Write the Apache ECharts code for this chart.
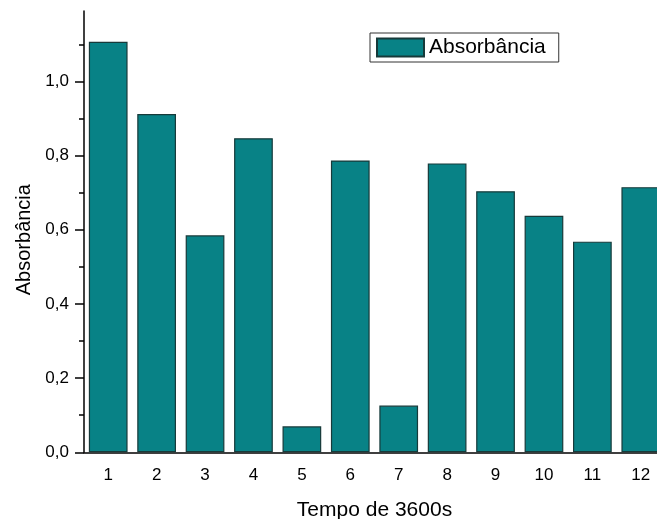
<!DOCTYPE html>
<html>
<head>
<meta charset="utf-8">
<script src="https://cdn.jsdelivr.net/npm/echarts@6/dist/echarts.min.js"></script>
<style>
  html, body { margin: 0; padding: 0; background: #fff; }
  #chart { width: 657px; height: 519px; }
</style>
</head>
<body>
<div id="chart"></div>
<script>
// dados
const categorias = ['1', '2', '3', '4', '5', '6', '7', '8', '9', '10', '11', '12'];
const absorbancia = [1.107, 0.912, 0.585, 0.847, 0.070, 0.787, 0.126, 0.779, 0.704, 0.638, 0.568, 0.715];
const ticksPrincipais = [0, 0.2, 0.4, 0.6, 0.8, 1.0];
const ticksMenores = [0.1, 0.3, 0.5, 0.7, 0.9, 1.1];

const fonte = 'Liberation Sans, Arial, sans-serif';
const corBarra = '#088286';

const myChart = echarts.init(document.getElementById('chart'));

const option = {
  animation: false,
  backgroundColor: '#fff',
  legend: {
    left: 370,
    top: 33,
    orient: 'vertical',
    icon: 'rect',
    itemWidth: 47,
    itemHeight: 18,
    padding: [4, 13, 4, 6],
    borderColor: '#333',
    borderWidth: 1,
    textStyle: { fontFamily: fonte, fontSize: 21, color: '#000' },
    data: ['Absorbância']
  },
  grid: { left: 84, top: 11, width: 581, height: 441.3, outerBoundsMode: 'none' },
  xAxis: [
    {
      type: 'category',
      data: categorias,
      name: 'Tempo de 3600s',
      nameLocation: 'middle',
      nameGap: 47,
      nameTextStyle: { fontFamily: fonte, fontSize: 21, color: '#000' },
      axisLine: { lineStyle: { color: '#000', width: 1.5 } },
      axisTick: { alignWithLabel: true, length: 8, lineStyle: { color: '#000', width: 1.5 } },
      axisLabel: { fontFamily: fonte, fontSize: 17, color: '#000', margin: 15 }
    },
    {
      // ticks menores nas divisões entre categorias
      type: 'category',
      data: categorias,
      position: 'bottom',
      axisLine: { show: false },
      axisTick: { length: 4, lineStyle: { color: '#000', width: 1.5 } },
      axisLabel: { show: false }
    }
  ],
  yAxis: [
    {
      type: 'value',
      min: 0,
      max: 1.19,
      name: 'Absorbância',
      nameLocation: 'middle',
      nameGap: 47,
      nameTextStyle: { fontFamily: fonte, fontSize: 20, color: '#000', padding: [0, 16, 0, 0] },
      splitLine: { show: false },
      axisLine: { show: true, lineStyle: { color: '#000', width: 1.5 } },
      axisTick: { show: true, length: 9, customValues: ticksPrincipais, lineStyle: { color: '#000', width: 1.5 } },
      axisLabel: {
        fontFamily: fonte, fontSize: 17, color: '#000', margin: 15,
        customValues: ticksPrincipais,
        formatter: v => v.toFixed(1).replace('.', ',')
      }
    },
    {
      // ticks menores do eixo y
      type: 'value',
      min: 0,
      max: 1.19,
      position: 'left',
      splitLine: { show: false },
      axisLine: { show: false },
      axisTick: { show: true, length: 5, customValues: ticksMenores, lineStyle: { color: '#000', width: 1.5 } },
      axisLabel: { show: false }
    }
  ],
  series: [
    {
      name: 'Absorbância',
      type: 'bar',
      data: absorbancia,
      barCategoryGap: '20%',
      itemStyle: { color: corBarra, borderColor: '#173a3a', borderWidth: 1.2 }
    }
  ]
};

myChart.setOption(option);
</script>
</body>
</html>
